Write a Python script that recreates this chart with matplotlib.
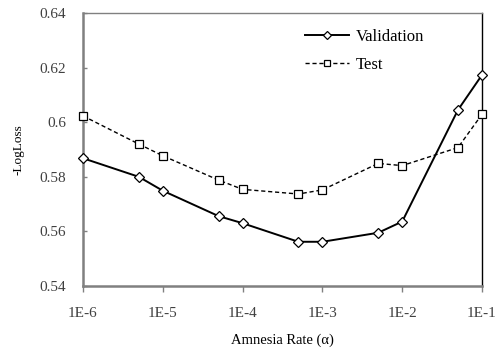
import numpy as np
import matplotlib
matplotlib.use('Agg')
import matplotlib.pyplot as plt

plt.rcParams['font.family'] = ['Liberation Serif', 'DejaVu Serif']

rates = [1e-6, 5e-6, 1e-5, 5e-5, 1e-4, 5e-4, 1e-3, 5e-3, 1e-2, 5e-2, 1e-1]
validation = [0.5868, 0.5800, 0.5749, 0.5656, 0.5630, 0.5562, 0.5562, 0.5595, 0.5636, 0.6045, 0.6173]
test = [0.6023, 0.5920, 0.5877, 0.5788, 0.5754, 0.5737, 0.5752, 0.5849, 0.5841, 0.5907, 0.6029]
xticks = [1e-6, 1e-5, 1e-4, 1e-3, 1e-2, 1e-1]
xlabels = ['1E-6', '1E-5', '1E-4', '1E-3', '1E-2', '1E-1']
yticks = [0.54, 0.56, 0.58, 0.6, 0.62, 0.64]
ylabels = ['0.54', '0.56', '0.58', '0.6', '0.62', '0.64']

fig = plt.figure(figsize=(4.98, 3.52), dpi=100)
ax = fig.add_axes([83/498, 1-286/352, (482-83)/498, (286-13)/352])

ax.plot(rates, validation, color='black', lw=1.4, marker='D', markersize=5.5,
        markerfacecolor='white', markeredgecolor='black', markeredgewidth=0.9,
        label='Validation', clip_on=False, zorder=3)
ax.plot(rates, test, color='black', lw=1.0, ls=(0, (3, 2)), marker='s', markersize=6,
        markerfacecolor='white', markeredgecolor='black', markeredgewidth=0.9,
        label='Test', clip_on=False, zorder=3)

ax.set_xscale('log')
ax.set_xlim(1e-6, 1e-1)
ax.set_ylim(0.54, 0.64)
ax.set_xticks(xticks)
ax.set_xticklabels(xlabels)
ax.minorticks_off()
ax.set_yticks(yticks)
ax.set_yticklabels(ylabels)

for s in ['left', 'bottom']:
    ax.spines[s].set_color('#808080')
    ax.spines[s].set_linewidth(1.8)
ax.spines['top'].set_color('#808080')
ax.spines['top'].set_linewidth(1.0)
ax.spines['right'].set_color('black')
ax.spines['right'].set_linewidth(1.0)

ax.tick_params(axis='x', direction='out', length=4, width=1, color='#808080',
               labelsize=11, labelcolor='#404040', pad=11)
ax.tick_params(axis='y', direction='in', length=3, width=1, color='#808080',
               labelsize=11, labelcolor='#404040', pad=12)

ax.set_xlabel('Amnesia Rate (α)', fontsize=10.5, labelpad=10)
ax.set_ylabel('-LogLoss', fontsize=9.5, labelpad=11)

leg = ax.legend(loc='upper left', bbox_to_anchor=(0.52, 0.997), frameon=False,
                fontsize=12, handlelength=2.6, handletextpad=0.4, labelspacing=0.75,
                markerscale=0.8)

fig.savefig('out.png', dpi=100)
